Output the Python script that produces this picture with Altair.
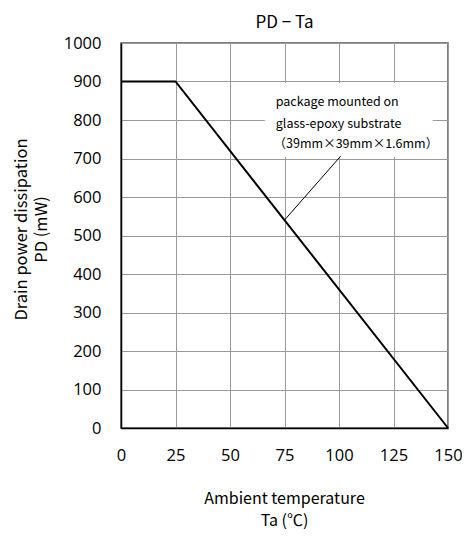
import altair as alt
import pandas as pd

# curve data
ta = [0, 25, 150]
pd_mw = [900, 900, 0]

x_ticks = [0, 25, 50, 75, 100, 125, 150]
y_ticks = [0, 100, 200, 300, 400, 500, 600, 700, 800, 900, 1000]

# annotation
note_lines = ["package mounted on", "glass-epoxy substrate", "（39mm×39mm×1.6mm）"]
note_x = [71, 71, 70]
note_y = [848, 790, 738]
leader_x = [75, 100.75]
leader_y = [540, 706]
box_x = [66]
box_x2 = [143]
box_y = [704]
box_y2 = [896]

curve = pd.DataFrame({"Ta": ta, "PD": pd_mw})
notes = pd.DataFrame({"text": note_lines, "x": note_x, "y": note_y})
leader = pd.DataFrame({"x": leader_x, "y": leader_y})
box = pd.DataFrame({"x": box_x, "x2": box_x2, "y": box_y, "y2": box_y2})

xscale = alt.Scale(domain=[0, 150], nice=False, zero=False)
yscale = alt.Scale(domain=[0, 1000], nice=False)

xaxis = alt.Axis(
    values=x_ticks, title=["Ambient temperature", "Ta (℃)"], format="d",
    grid=True, ticks=False, labelPadding=19, labelFontSize=16.5,
    labelFont="Open Sans", labelColor="#000", titleFont="Noto Sans CJK JP",
    titleFontSize=16, titleFontWeight="normal", titleColor="#000",
    titleLineHeight=22, titleX=163, titleY=62, titleBaseline="top",
    domainColor="#000", domainWidth=1.5, labelFlush=False, labelOverlap=False,
)
yaxis = alt.Axis(
    values=y_ticks, title=["Drain power dissipation", "PD (mW)"], format="d",
    grid=True, ticks=False, labelPadding=20, labelFontSize=16.5,
    labelFont="Open Sans", labelColor="#000", titleFont="Noto Sans CJK JP",
    titleFontSize=16.5, titleFontWeight="normal", titleColor="#000",
    titleLineHeight=20, titleX=-92, titleY=186, titleAngle=-90,
    titleBaseline="bottom", titleAlign="center",
    domainColor="#000", domainWidth=1.5, labelFlush=False, labelOverlap=False,
)

line = alt.Chart(curve).mark_line(color="#000", strokeWidth=2).encode(
    x=alt.X("Ta:Q", scale=xscale, axis=xaxis),
    y=alt.Y("PD:Q", scale=yscale, axis=yaxis),
)

rect = alt.Chart(box).mark_rect(color="white").encode(
    x=alt.X("x:Q", scale=xscale, axis=xaxis), x2="x2:Q",
    y=alt.Y("y:Q", scale=yscale, axis=yaxis), y2="y2:Q",
)

lead = alt.Chart(leader).mark_line(color="#000", strokeWidth=1).encode(
    x=alt.X("x:Q", scale=xscale, axis=xaxis), y=alt.Y("y:Q", scale=yscale, axis=yaxis)
)

text = alt.Chart(notes).mark_text(
    align="left", baseline="middle", font="Noto Sans CJK JP", fontSize=12.5, color="#000"
).encode(
    x=alt.X("x:Q", scale=xscale, axis=xaxis), y=alt.Y("y:Q", scale=yscale, axis=yaxis),
    text="text:N"
)

chart = alt.layer(rect, lead, line, text).properties(
    width=327, height=385,
    title=alt.TitleParams("PD − Ta", font="Noto Sans CJK JP", fontSize=17,
                          fontWeight="normal", color="#000", offset=3),
    autosize=alt.AutoSizeParams(type="none"),
    padding={"left": 113, "top": 35, "right": 14, "bottom": 101},
).configure_axis(
    gridColor="#999", gridWidth=1, gridOpacity=1
).configure_view(
    stroke="#555", strokeWidth=1.5
)

chart.save("out.html", embed_options={"renderer": "svg", "actions": False})
